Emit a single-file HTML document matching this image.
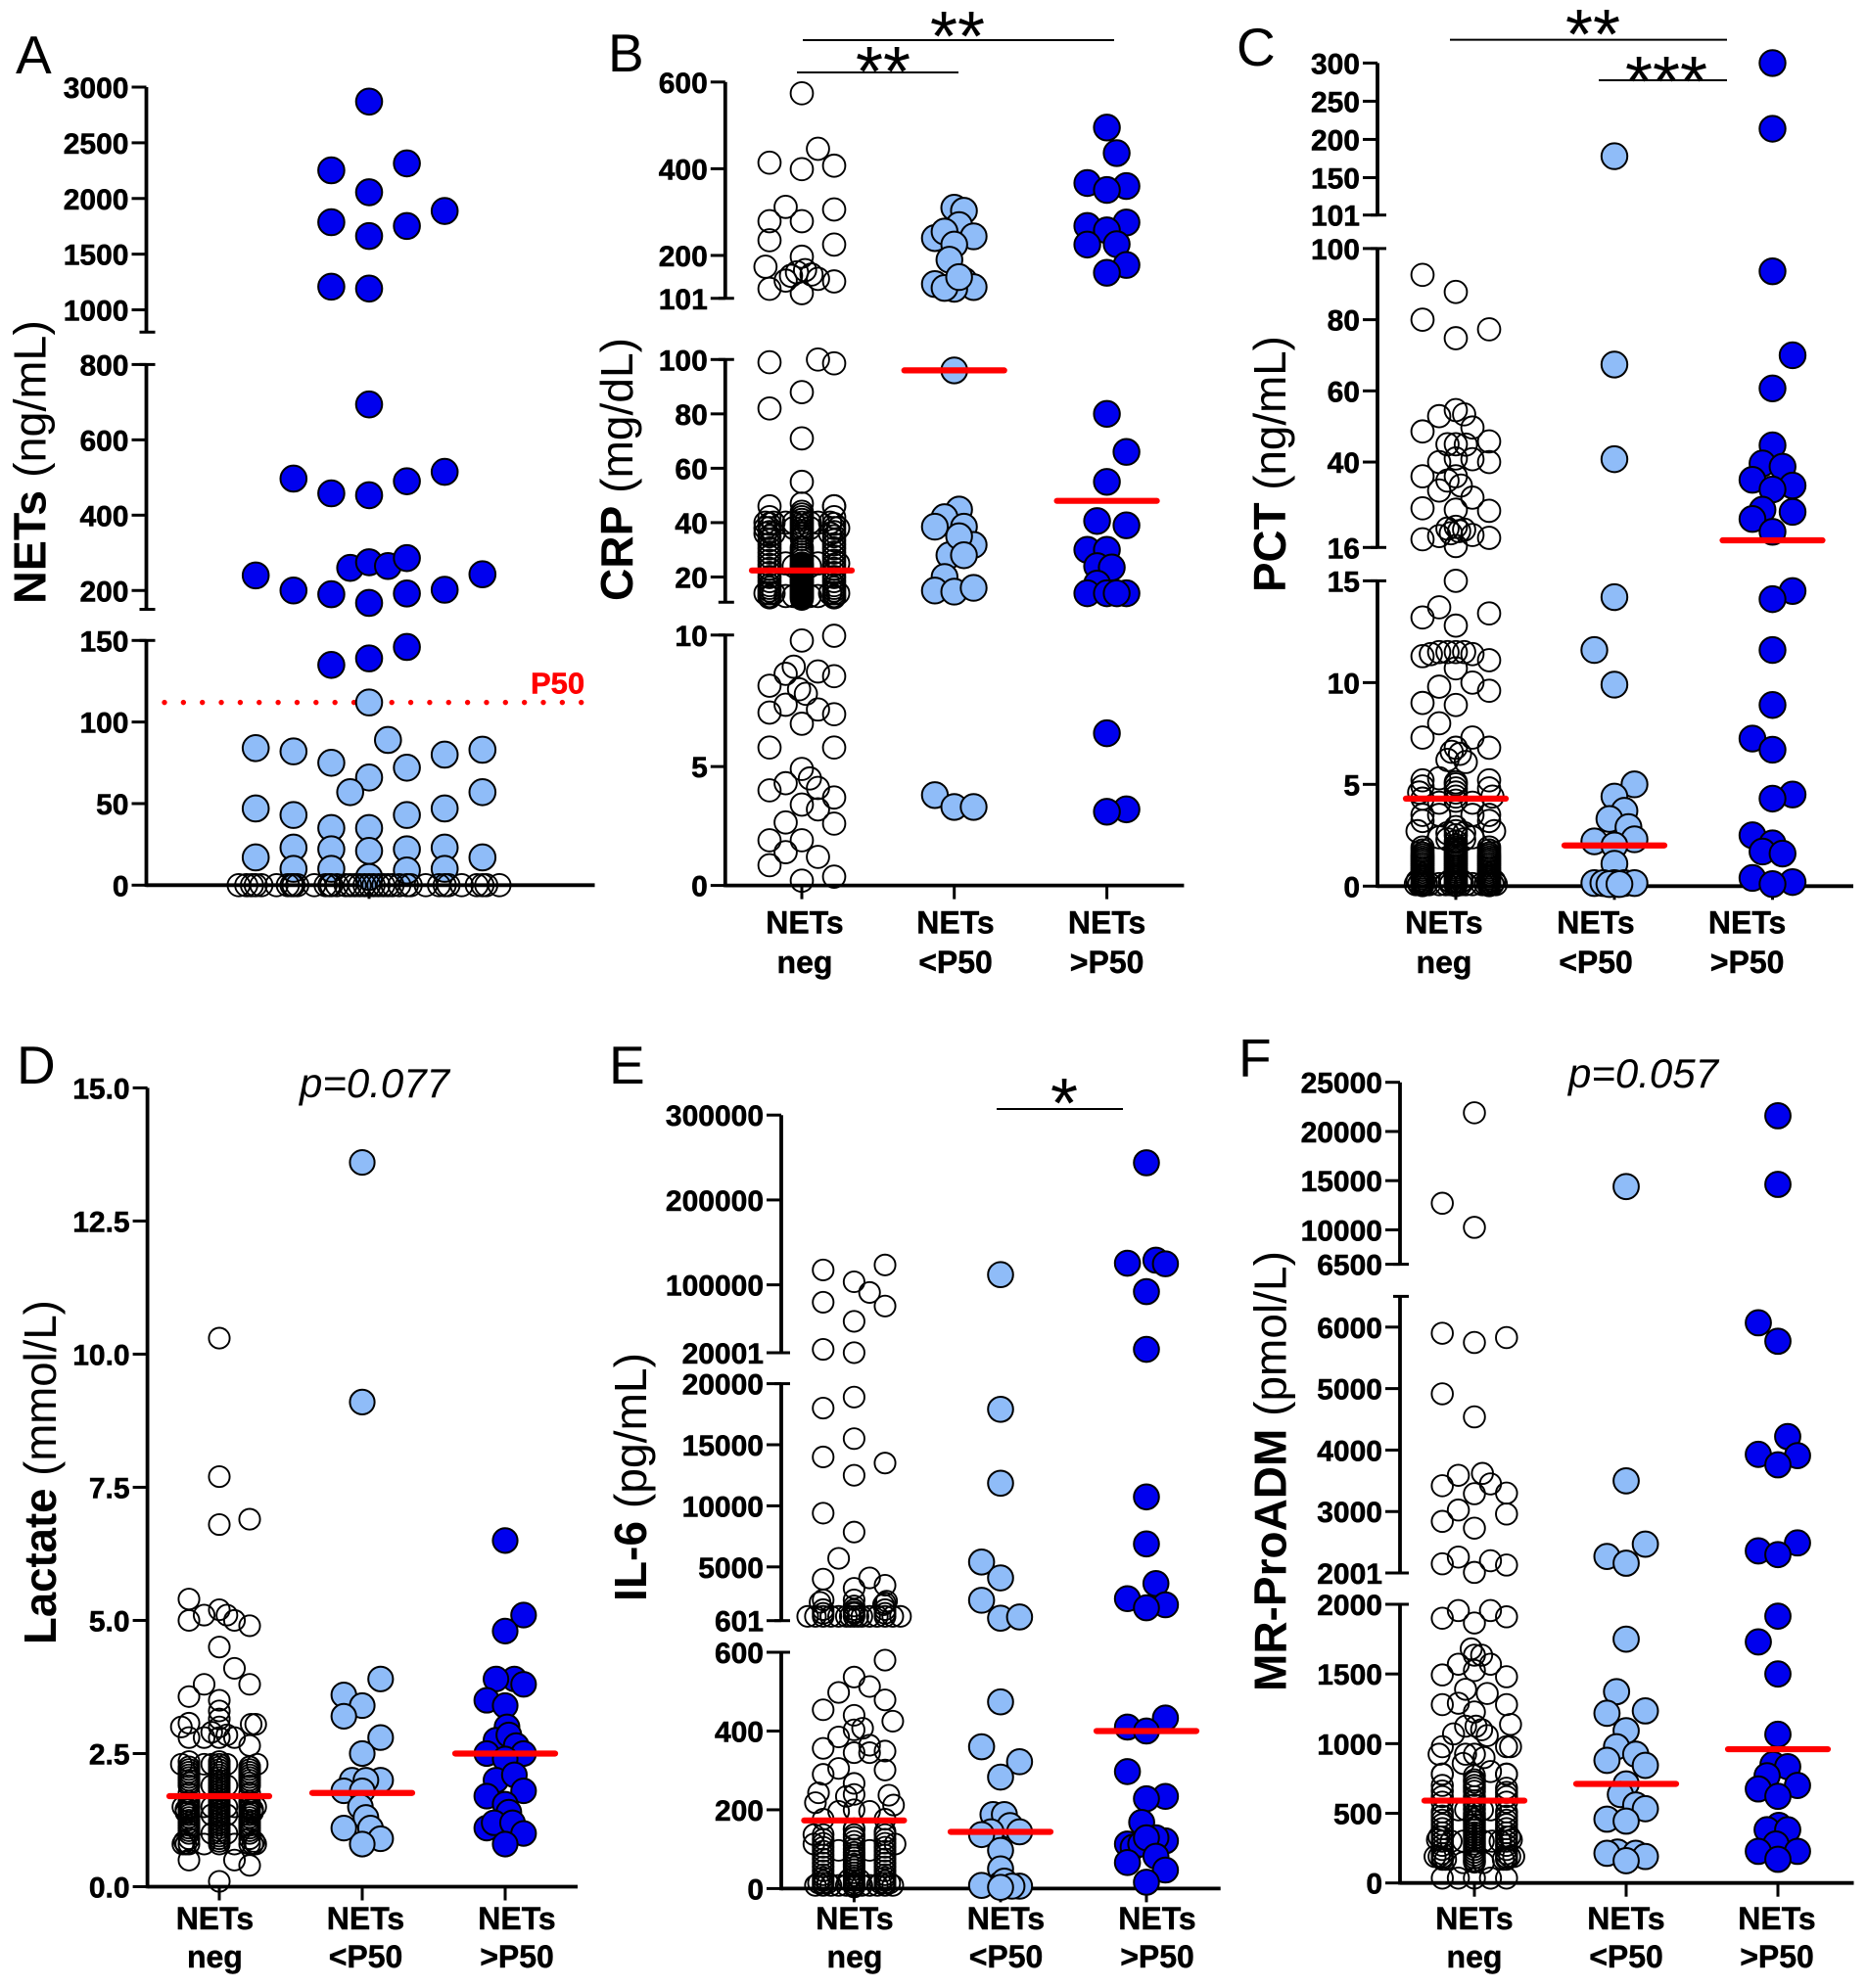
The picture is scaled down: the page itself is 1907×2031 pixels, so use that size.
<!DOCTYPE html>
<html lang="en">
<head>
<meta charset="utf-8">
<title>NETs scatter panels</title>
<style>
html,body{margin:0;padding:0;background:#fff;}
svg{display:block;font-family:"Liberation Sans",Arial,sans-serif;}
.tick{font-size:30px;font-weight:700;fill:#000;text-anchor:end;stroke:#000;stroke-width:.55;}
.cat{font-size:32px;font-weight:700;fill:#000;text-anchor:middle;stroke:#000;stroke-width:.45;}
.letter{font-size:55px;fill:#000;}
.star{font-size:72px;fill:#000;text-anchor:middle;}
.pval{font-size:42px;font-style:italic;fill:#000;}
.ytitle{font-size:46px;fill:#000;}
.ytitle .b{font-weight:700;}
.sig{stroke:#000;stroke-width:2;}
.axis{stroke:#000;stroke-width:3.8;fill:none;}
.tk{stroke:#000;stroke-width:3;}
.neg{fill:none;stroke:#000;stroke-width:1.9;}
.light{fill:#8fbcf8;stroke:#000;stroke-width:2;}
.dark{fill:#0000ee;stroke:#000;stroke-width:2;}
.median{stroke:#ff0000;stroke-width:6.2;stroke-linecap:round;}
</style>
</head>
<body>
<svg id="chart" xmlns="http://www.w3.org/2000/svg" width="1907" height="2031" viewBox="0 0 1907 2031">
<rect width="1907" height="2031" fill="#fff"/>

<text class="letter" x="16" y="75">A</text>
<text class="letter" x="621" y="73">B</text>
<text class="letter" x="1263" y="67">C</text>
<text class="letter" x="17" y="1107">D</text>
<text class="letter" x="622" y="1107">E</text>
<text class="letter" x="1265" y="1100">F</text>

<text class="ytitle" data-x="46.6" data-y="617" data-len="290"><tspan class="b">NETs</tspan> (ng/mL)</text>
<text class="ytitle" data-x="646" data-y="614" data-len="269"><tspan class="b">CRP</tspan> (mg/dL)</text>
<text class="ytitle" data-x="1313" data-y="605" data-len="262"><tspan class="b">PCT</tspan> (ng/mL)</text>
<text class="ytitle" data-x="57" data-y="1680" data-len="352"><tspan class="b">Lactate</tspan> (mmol/L)</text>
<text class="ytitle" data-x="660" data-y="1636" data-len="254"><tspan class="b">IL-6</tspan> (pg/mL)</text>
<text class="ytitle" data-x="1313.6" data-y="1728" data-len="450"><tspan class="b">MR-ProADM</tspan> (pmol/L)</text>

<line class="sig" x1="820" y1="41" x2="1138" y2="41"/>
<text class="star" x="978" y="62">**</text>
<line class="sig" x1="814" y1="74" x2="979" y2="74"/>
<text class="star" x="902" y="98">**</text>
<line class="sig" x1="1481" y1="40.6" x2="1764" y2="40.6"/>
<text class="star" x="1627" y="60">**</text>
<line class="sig" x1="1633" y1="82" x2="1764" y2="82"/>
<text class="star" x="1702" y="108">***</text>
<line class="sig" x1="1018" y1="1133" x2="1147" y2="1133"/>
<text class="star" x="1087" y="1152">*</text>

<text class="pval" x="306" y="1121">p=0.077</text>
<text class="pval" x="1602" y="1111">p=0.057</text>
<g id="marks"></g>
</svg>
<script>
/* ---------- shared categories ---------- */
const catLine1 = ['NETs','NETs','NETs'];
const catLine2 = ['neg','<P50','>P50'];

/* ---------- Panel A: NETs ---------- */
const aTickValues = [0,50,100,150,200,400,600,800,1000,1500,2000,2500,3000];
const aTickLabels = ['0','50','100','150','200','400','600','800','1000','1500','2000','2500','3000'];
const aP50 = [112];
const aDarkValues = [2870,2253,2315,2056,1888,1787,1753,1663,1208,1191,694,497,458,453,490,515,240,260,275,265,286,243,200,190,192,202,167,139,135,146];
const aDarkSlots  = [0,-1,1,0,2,-1,1,0,-1,0,0,-2,-1,0,1,2,-3,-.5,0,.5,1,3,-2,-1,1,2,0,0,-1,1];
const aLightValues = [112,84,82,75,89,66,72,80,83,57,57,47,43,43,47,35,35,23,22,21,22,23,17,17,10,10,5,9,10];
const aLightSlots  = [0,-3,-2,-1,.5,0,1,2,3,-.5,3,-3,-2,1,2,-1,0,-2,-1,0,1,2,-3,3,-2,-1,0,1,2];
const aNegValues = [0,0,0,0,0,0,0,0,0,0,0,0,0,0,0,0,0,0,0,0,0,0,0,0,0,0,0,0,0,0,0,0,0,0,0,0,0,0];
const aNegSlots  = [-3.45,-3.25,-3.1,-3,-2.85,-2.45,-2.15,-2.05,-2,-1.9,-1.45,-1.15,-1.05,-1,-.85,-.5,-.25,-.12,0,.12,.25,.5,-.38,.38,.8,1,1.1,1.5,1.85,2,2.1,2.45,2.85,3,3.1,3.45,.62,-.62];

/* ---------- Panel B: CRP ---------- */
const bTickValues = [0,5,10.53,20,40,60,80,100,101,200,400,600];
const bTickLabels = ['0','5','10','20','40','60','80','100','101','200','400','600'];
const bMedians = [22.4,96,48];
const bNegValues = [574,446,414,399,407,312,306,279,279,235,225,197,174,140,123,113,142,153,161,166,156,146,
  99,100,98.6,88,82,71,55,46,46,47,
  40,38,36,14,40,36,14,40,25,13,40,25,13,40,38,24,13,40,38,24,13,38,25,14,40,36,14,
  10.3,10.5,9.2,8.9,9,8.8,8.4,8.25,8.06,7.6,7.4,7.27,7.2,6.8,5.8,5.8,4.9,4.5,4.3,4.1,4,3.7,3.4,3.2,2.65,2.6,1.9,1.9,1.4,1.2,.85,.37,.2];
const bNegSlots  = [0,1,-2,0,2,-1,2,-2,0,-2,2,0,-2.25,2,-2,0,-1,-.67,-.3,.2,.6,1,
  -2,1,2,0,-2,0,0,-2,2,0,
  -2.25,-2.25,-2.25,-2.25,-1.75,-1.75,-1.75,-1,-1,-1,1,1,1,-.5,-.5,-.5,-.5,.5,.5,.5,.5,2.25,2.25,2.25,1.75,1.75,1.75,
  0,2,-.5,-1,1,2,-2,-.17,.25,-1,1,-2,2,0,-2,2,0,.5,-1,1,-2,2,0,1,-1,2,-2,0,-1,1,-2,2,0];
const bNegStackLeft = [42,39.5,38,36.5,35,33.5,32,30.5,29,27.5,26,24.5,23,21.5,20,18.5,17,16,15,14,13,12.5];
const bNegStackCenter = [44,43,42,41,40,39,38,37,36,35,34,31,30,29,28,27,26,25,24.5,24,23.5,23,22.5,22,21.5,21,20.5,20,19.5,19,18.5,18,17.5,17,16.5,16,15.5,15,14.5,14,13.5,13,12.5,12];
const bNegStackRight = [46,42,39.5,38,36.5,35,33.5,32,30.5,29,27.5,26,24.5,23,21.5,20,18.5,17,16,15,14,13,12.5];
const bLightValues = [310,303,270,240,255,244,225,190,134,142,127,123,125,150,96,44.8,42,38.5,38.5,31.8,28,35,28,20,15,14.6,16,3.8,3.3,3.3];
const bLightSlots  = [0,.5,.25,-1,-.5,1,0,-.25,-1,.5,1,0,-.5,.25,0,.25,-.5,-1,.5,1,-.25,.25,.5,-.5,-1,0,1,-1,0,1];
const bDarkValues = [495,436,367,360,351,276,268,258,225,226,178,160,80,66,55,40.6,39,30,30,24,23.5,17.6,14,14,14,14,6.4,3.2,3.1];
const bDarkSlots  = [0,.5,-1,1,0,1,-1,0,-1,.5,1,0,0,1,0,-.5,1,-1,0,-.5,.25,-.5,-1,1,0,.5,0,1,0];

/* ---------- Panel C: PCT ---------- */
const cTickValues = [0,5,10,15,16,40,60,80,100,101,150,200,250,300];
const cTickLabels = ['0','5','10','15','16','40','60','80','100','101','150','200','250','300'];
const cMedians = [4.3,2,18];
const cNegValues = [92.6,87.8,80,74.8,77.3,54.6,52.9,53.4,49.7,48.6,45,45,44.9,45.8,40,41,40.8,40,36,34.8,36,32,33.4,30,27,26.6,26.3,21.8,21.3,21,19.2,19.5,18.3,18.7,16.4,20,20.6,
  15,13.7,13.2,13.4,12.8,11.3,11.4,11.5,11.5,11.5,11.5,11.4,11.1,10.7,9.8,10,9.6,9,8.9,8,7.3,7.3,6.8,6.8,6.6,6.5,6.2,6.1,5.3,5.2,5.2,5.1,
  4.9,4.6,4.3,3.5,3.2,2.7,4.8,4.4,3.5,3.2,2.7,4.1,3.5,2.4,4.1,3.5,2.4,2.6,2.3,2.6,2.3,
  .1,.1,.1,.1,.1,.1,.1,.1,.1,.1,.1,.1,.1,.1,.25,.25,.25,.25];
const cNegSlots  = [-2,0,-2,0,2,0,-1,.5,1,-2,-.5,0,.6,2,-1,0,1,2,-2,-.5,0,-1,.3,1,-2,0,2,0,-.5,.5,-1,1,-2,2,0,-.3,.2,
  0,-1,-2,2,0,-2,-1.5,-1,-.5,0,.5,1,2,0,-1,1,2,-2,0,-1,-2,1,2,0,-.25,.25,-.5,.6,-1,-2,2,0,
  -2,-2.2,-2,-2,-2,-2.3,2,2.2,2,2,2.3,-1,-1,-1,1,1,1,-.5,-.5,.5,.5,
  -2.4,-2.2,-1.8,-1.6,-1,-.6,-.3,.3,.6,1,1.6,1.8,2.2,2.4,-.35,.35,-2.3,2.3];
const cNegStackLeft = [1.9,1.75,1.6,1.5,1.4,1.3,1.2,1.1,1,.9,.8,.7,.6,.5,.4,.3,.2,.1,.05];
const cNegStackCenter = [5,4.8,4.6,4.4,4.2,2.9,2.7,2.5,2.2,2,1.9,1.8,1.7,1.6,1.5,1.4,1.3,1.2,1.1,1,.9,.8,.7,.6,.5,.4,.3,.2,.1,.05];
const cNegStackRight = [1.9,1.75,1.6,1.5,1.4,1.3,1.2,1.1,1,.9,.8,.7,.6,.5,.4,.3,.2,.1,.05];
const cLightValues = [178,67.4,40.8,14.2,11.6,9.9,5,4.4,3.7,3.3,2.9,2.2,2.3,2,1.1,.15,.15,.15,.15,.15,.1,.1];
const cLightSlots  = [0,0,0,0,-1,0,1,0,.5,-.25,.7,-1,1,0,0,-1,-.55,0,.5,1,-.25,.25];
const cDarkValues = [300,214,93.6,70,60.7,44.7,39.6,38.7,35,33.4,32.3,26.6,26,24,20.4,14.5,14.1,11.6,8.9,7.25,6.7,4.5,4.3,2.5,2.1,1.7,1.6,.4,.2,.1];
const cDarkSlots  = [0,0,0,1,0,0,-.5,.5,-1,1,0,-.5,1,-1,0,1,0,0,0,-1,0,1,0,-1,0,-.5,.5,-1,1,0];

/* ---------- Panel D: Lactate ---------- */
const dTickValues = [0,2.5,5,7.5,10,12.5,15];
const dTickLabels = ['0.0','2.5','5.0','7.5','10.0','12.5','15.0'];
const dMedians = [1.7,1.76,2.5];
const dNegValues = [10.3,7.7,6.9,6.8,5.4,5,5.1,5.2,5.1,5,4.9,4.5,4.1,3.8,3.8,3.57,3.5,3.3,3.15,3,3,3.07,3.05,3.05,2.8,2.8,2.9,2.85,2.8,2.8,2.65,2.3,2.35,2.3,2.3,2.3,2.35,2.25,2.3,
  1.9,1.5,1.35,1,1.9,1.5,1.35,1,1.5,.8,1.5,.8,1.5,.8,1.5,.8,.5,.5,.4,.1,1.45,1.4,.85,.8,1.45,1.4,.85,.8];
const dNegSlots  = [0,0,2,0,-2,-2,-1,0,.5,1,2,0,1,-1,2,-2,0,0,0,0,-2.5,-2,2.4,2.1,-1,1,-.5,.5,0,-2,2,-2.5,-2,-1,-.5,.5,0,2,2.5,
  -.5,-.5,-.5,-.5,.5,.5,.5,.5,-1,-1,1,1,-2.4,-2.4,2.4,2.4,-2,1,2,0,-2.2,-2.2,-2.3,-2.2,2.2,2.2,2.3,2.2];
const dNegStackLeft = [2.25,2.2,2.15,2.1,2.05,2,1.95,1.9,1.75,1.6,1.55,1.5,1.45,1.4,1.35,1.3,1.25,1.2,1.15,1.1,1.05,1,.9,.8];
const dNegStackCenter = [2.3,2.25,2.2,2.15,2.1,2.05,2,1.95,1.9,1.85,1.8,1.75,1.7,1.65,1.6,1.55,1.5,1.45,1.4,1.35,1.3,1.25,1.2,1.15,1.1,1.05,1,.95,.9,.85,.8];
const dNegStackRight = [2.25,2.2,2.15,2.1,2.05,2,1.95,1.9,1.75,1.6,1.55,1.5,1.45,1.4,1.35,1.3,1.25,1.2,1.15,1.1,1.05,1,.9,.8];
const dLightValues = [13.6,9.1,3.9,3.6,3.4,3.2,2.8,2.5,2,2,2,1.8,1.8,1.5,1.3,1.1,1.1,.9,.8];
const dLightSlots  = [0,0,1,-1,0,-1,1,0,1,-.55,.2,-1,0,-.1,.2,-1,.45,1,0];
const dDarkValues = [6.5,5.1,4.8,3.9,3.9,3.8,3.5,3.4,3,2.75,2.85,2.65,2.5,2.5,2.4,2,2.1,1.8,1.7,1.55,1.4,1.1,1.2,1.2,1,.8];
const dDarkSlots  = [0,1,0,.5,-.5,1,-1,0,.1,-.5,.2,.6,-1,1,0,-.5,.5,1,-1,0,.2,-1,-.6,.4,1,0];

/* ---------- Panel E: IL-6 ---------- */
const eTickValues = [0,200,400,600,601,5000,10000,15000,20000,20001,100000,200000,300000];
const eTickLabels = ['0','200','400','600','601','5000','10000','15000','20000','20001','100000','200000','300000'];
const eMedians = [173,144,400];
const eNegValues = [117500,103600,123400,91000,79500,75000,57000,24000,20100,
  18000,18900,15500,14000,13500,12500,9400,7850,5700,4000,4100,3500,3250,2300,2100,2050,2300,1800,1300,
  950,950,950,950,950,950,950,950,950,950,950,950,950,950,950,1500,1200,1500,1200,1500,1200,2200,1900,
  580,537,498,513,454,479,425,440,385,403,407,364,356,345,345,349,305,290,301,267,243,237,234,239,218,212,
  196,196,176,200,176,137,137,137,144,152,137,97,97,113,113,
  8,8,8,8,8,8,8,8,14,14,14,14,22,22];
const eNegSlots  = [-2,0,2,1,-2,2,0,-2,0,
  -2,0,0,-2,2,0,-2,0,-1,-2,1,2,0,-2,-2.2,2,0,0,0,
  -3,-2.5,-2,-1.5,-1,-.5,-.25,0,.25,.5,1,1.5,2,2.5,3,-2,-2,0,0,2,2,2.1,1.9,
  2,0,-1,1,-2,2,2.5,0,-1,0,.55,1,-2,0,1,2,-1,-2,2,0,-2.3,2.25,-.5,0,-2.5,2.55,
  -1,1,-2,0,2,-2.6,-2,2,2,0,0,-1,1,-2.6,2.65,
  -2.5,-1.5,-1,-.5,.5,1,1.5,2.5,-2.3,-1.7,1.7,2.3,-.35,.35];
const eNegStackLeft = [125,115,105,95,85,75,65,55,45,35,28,20,14,8];
const eNegStackCenter = [150,130,120,110,100,92,85,78,70,62,55,48,40,33,27,20,14,8,4];
const eNegStackRight = [125,115,105,95,85,75,65,55,45,35,28,20,14,8];
const eLightValues = [112000,17900,11850,5400,4100,2270,800,900,474,360,322,283,188,188,160,144,144,137,97,50,11,8,19,6,6,3];
const eLightSlots  = [0,0,0,-1,0,-1,0,1,0,-1,1,0,-.4,.2,.5,1,-.5,-1,0,0,0,-1,.2,1,.6,0];
const eDarkValues = [243800,125500,129000,124800,92000,24000,10730,6880,3640,2400,1900,1650,433,410,400,297,234,228,168,113,121,105,113,129,129,82,66,47,16];
const eDarkSlots  = [0,-1,.5,1,0,0,0,0,.5,-1,1,0,1,-1,0,-1,1,0,-.25,-1,1,-.7,-.3,.5,0,.5,-1,1,0];

/* ---------- Panel F: MR-ProADM ---------- */
const fTickValues = [0,500,1000,1500,2000,2001,3000,4000,5000,6000,6500.5,10000,15000,20000,25000];
const fTickLabels = ['0','500','1000','1500','2000','2001','3000','4000','5000','6000','6500','10000','15000','20000','25000'];
const fMedians = [591,711,960];
const fNegValues = [21900,12700,10250,5900,5750,5830,4915,4540,3590,3620,3450,3420,3290,3300,3025,2960,2840,2730,2260,2200,2150,2130,2010,
  1955,1955,1900,1910,1866,1680,1635,1635,1570,1570,1493,1480,1525,1390,1360,1290,1280,1280,1227,1138,1125,1125,1100,1070,1058,978,978,978,924,924,924,900,858,800,782,782,
  525,525,525,525,300,300,300,300,300,190,190,146,146,35,35,35,35,35,330,310,190,170,330,310,190,170];
const fNegSlots  = [0,-2,0,-2,0,2,-2,0,-1,.5,1,-2,0,2,-1,2,-2,0,-1,1,-2,2,0,
  -1,1,-2,2,0,-.2,0,.45,-1,1,-2,2,0,-.55,.8,-1,-2,2,0,2.25,-.55,.1,.45,-1.3,.8,-2,2,2.25,-2.2,-.55,0,.6,-.7,1,-2,2,
  -1,-.55,.5,1,-1.45,-.7,.55,1.1,1.6,-2.45,2.45,-.7,.55,-2,-1,0,1,2,-2.2,-2.3,-2.2,-1.8,2.2,2.3,2.2,1.8];
const fNegStackLeft = [780,700,660,620,580,510,480,450,420,390,360,330,300,270,240,210,185,170];
const fNegStackCenter = [770,740,724,700,680,658,620,590,560,530,500,480,460,440,420,400,380,360,340,320,300,280,260,240,220,200,180,160,150];
const fNegStackRight = [780,680,650,620,580,510,480,450,420,390,360,330,300,270,240,210,185,170];
const fLightValues = [14400,3500,2470,2270,2160,1750,1373,1218,1235,1093,978,924,880,844,711,635,560,533,458,444,222,213,213,190,160];
const fLightSlots  = [0,0,1,-1,0,0,-.5,-1,1,0,-.5,.5,-1,1,0,-.3,.5,1,-1,0,-.45,-1,.5,1,0];
const fDarkValues = [21600,14620,6070,5770,4220,3930,3910,3760,2490,2360,2300,1915,1730,1500,1067,850,835,770,675,700,622,413,382,382,280,227,227,170];
const fDarkSlots  = [0,0,-1,0,.5,-1,1,0,1,-1,0,0,-1,0,0,-.25,.5,-.55,-1,1,0,.05,-.55,.5,-.1,-1,1,0];

/* ---------- layouts (pixels live here, not in data) ---------- */
const layoutA = {id:'a',axisX:149.5,xEnd:607.5,segs:[{lo:0,hi:150,bottom:904.3,top:654.3},{lo:150,hi:800,bottom:622.5,top:372.4},{lo:800,hi:3000,bottom:339.3,top:89}],groupX:[377,377,377],steps:[38.6,38.6,38.6],labelX:null,labelY:null,rFilled:13.3,rNeg:11.4};
const layoutB = {id:'b',axisX:740.8,xEnd:1209.4,segs:[{lo:0,hi:10.53,bottom:904.6,top:648.8},{lo:10.7,hi:100,bottom:615.3,top:367.3},{lo:101,hi:600,bottom:304.8,top:83.8}],groupX:[819,974.7,1130.6],steps:[16.5,19.8,20],labelX:[822,976,1130.6],labelY:[953.6,994],rFilled:13.2,rNeg:11.4};
const layoutC = {id:'c',axisX:1407,xEnd:1893,segs:[{lo:0,hi:15,bottom:905.3,top:593.4},{lo:16,hi:100,bottom:559.3,top:253.9},{lo:101,hi:300,bottom:219.7,top:64.4}],groupX:[1487,1649,1810.5],steps:[17,20.5,20.5],labelX:[1475,1630,1784.6],labelY:[953.6,994],rFilled:13.2,rNeg:11.4};
const layoutD = {id:'d',axisX:150.6,xEnd:590,segs:[{lo:0,hi:15,bottom:1927.5,top:1111.4}],groupX:[224,370,516],steps:[15.5,18.8,18.8],labelX:[219.4,373.5,528],labelY:[1971,2010],rFilled:12.6,rNeg:10.6};
const layoutE = {id:'e',axisX:798,xEnd:1246.7,segs:[{lo:0,hi:600,bottom:1929.4,top:1688},{lo:601,hi:20000,bottom:1655.7,top:1413.6},{lo:20001,hi:300000,bottom:1382,top:1139.2}],groupX:[872.4,1022,1171],steps:[15.8,19.4,19.4],labelX:[873,1027.5,1182],labelY:[1971,2010],rFilled:12.8,rNeg:10.6};
const layoutF = {id:'f',axisX:1430,xEnd:1893.5,segs:[{lo:0,hi:2000,bottom:1923.7,top:1639},{lo:2001,hi:6500,bottom:1607,top:1324.4},{lo:6500.5,hi:25000,bottom:1291.6,top:1105.7}],groupX:[1506,1661,1816],steps:[16.4,19.6,20],labelX:[1506,1661,1815],labelY:[1971,2010],rFilled:12.9,rNeg:10.8};

const SVGNS = 'http://www.w3.org/2000/svg';
const root = document.getElementById('marks');

function make(tag, attrs){
  const node = document.createElementNS(SVGNS, tag);
  for (const k in attrs) node.setAttribute(k, attrs[k]);
  root.appendChild(node);
  return node;
}

function yScale(p, v){
  let seg = p.segs[p.segs.length - 1];
  for (const s of p.segs){ if (v <= s.hi){ seg = s; break; } }
  return seg.bottom + (v - seg.lo) / (seg.hi - seg.lo) * (seg.top - seg.bottom);
}

function xScale(p, group, slot){
  return p.groupX[group] + slot * p.steps[group];
}

function drawAxes(p, tickValues, tickLabels){
  p.segs.forEach(function(s, i){
    const a = make('line', {class:'axis', x1:p.axisX, x2:p.axisX, y1:s.bottom + (i === 0 ? 1.8 : 0), y2:s.top});
    
    
    if (i > 0){
      const capB = make('line', {class:'tk', x1:p.axisX - 7, x2:p.axisX + 9, y1:s.bottom, y2:s.bottom});
      
      
    }
    if (i < p.segs.length - 1){
      const capT = make('line', {class:'tk', x1:p.axisX - 7, x2:p.axisX + 9, y1:s.top, y2:s.top});
      
      
    }
  });
  tickValues.forEach(function(v, i){
    const y = yScale(p, v);
    const t = make('line', {class:'tk', x1:p.axisX - 15, x2:p.axisX, y1:y, y2:y});
    
    
    const lab = make('text', {class:'tick', x:p.axisX - 18, y:y + 11});
    lab.textContent = tickLabels[i];
    
    
  });
  const y0 = p.segs[0].bottom;
  const xa = make('line', {class:'axis', x1:p.axisX, x2:p.xEnd, y1:y0, y2:y0});
  
  
  p.groupX.forEach(function(gx, i){
    if (!p.labelX && i > 0) return;
    const t = make('line', {class:'tk', x1:gx, x2:gx, y1:y0, y2:y0 + 14});
    
    
    if (!p.labelX) return;
    const l1 = make('text', {class:'cat', x:p.labelX[i], y:p.labelY[0]});
    l1.textContent = catLine1[i];
    
    
    const l2 = make('text', {class:'cat', x:p.labelX[i], y:p.labelY[1]});
    l2.textContent = catLine2[i];
    
    
  });
}

function drawPoints(p, group, kind, values, slots){
  values.forEach(function(v, i){
    const slot = Array.isArray(slots) ? (slots[i] || 0) : slots;
    const c = make('circle', {class:kind, cx:xScale(p, group, slot), cy:yScale(p, v), r:kind === 'neg' ? p.rNeg : p.rFilled});
    
    
  });
}

function drawMedians(p, medians){
  medians.forEach(function(v, i){
    const y = yScale(p, v);
    const m = make('line', {class:'median', x1:p.groupX[i] - 51, x2:p.groupX[i] + 51, y1:y, y2:y});
    
    
  });
}

/* Panel A */
drawAxes(layoutA, aTickValues, aTickLabels);
const p50y = yScale(layoutA, aP50[0]);
const p50Line = make('line', {x1:168, x2:597, y1:p50y, y2:p50y, stroke:'#ff0000', 'stroke-width':5.4, 'stroke-linecap':'round', 'stroke-dasharray':'0 19.35'});


const p50Label = make('text', {x:542, y:p50y - 9, fill:'#ff0000', stroke:'#ff0000', 'stroke-width':.5, 'font-size':31, 'font-weight':700});
p50Label.textContent = 'P50';


drawPoints(layoutA, 2, 'dark', aDarkValues, aDarkSlots);
drawPoints(layoutA, 1, 'light', aLightValues, aLightSlots);
drawPoints(layoutA, 0, 'neg', aNegValues, aNegSlots);

/* Panel B */
drawAxes(layoutB, bTickValues, bTickLabels);
drawPoints(layoutB, 0, 'neg', bNegValues, bNegSlots);
drawPoints(layoutB, 0, 'neg', bNegStackLeft, -2);
drawPoints(layoutB, 0, 'neg', bNegStackCenter, 0);
drawPoints(layoutB, 0, 'neg', bNegStackRight, 2);
drawPoints(layoutB, 1, 'light', bLightValues, bLightSlots);
drawPoints(layoutB, 2, 'dark', bDarkValues, bDarkSlots);
drawMedians(layoutB, bMedians);

/* Panel C */
drawAxes(layoutC, cTickValues, cTickLabels);
drawPoints(layoutC, 0, 'neg', cNegValues, cNegSlots);
drawPoints(layoutC, 0, 'neg', cNegStackLeft, -2);
drawPoints(layoutC, 0, 'neg', cNegStackCenter, 0);
drawPoints(layoutC, 0, 'neg', cNegStackRight, 2);
drawPoints(layoutC, 1, 'light', cLightValues, cLightSlots);
drawPoints(layoutC, 2, 'dark', cDarkValues, cDarkSlots);
drawMedians(layoutC, cMedians);

/* Panel D */
drawAxes(layoutD, dTickValues, dTickLabels);
drawPoints(layoutD, 0, 'neg', dNegValues, dNegSlots);
drawPoints(layoutD, 0, 'neg', dNegStackLeft, -2);
drawPoints(layoutD, 0, 'neg', dNegStackCenter, 0);
drawPoints(layoutD, 0, 'neg', dNegStackRight, 2);
drawPoints(layoutD, 1, 'light', dLightValues, dLightSlots);
drawPoints(layoutD, 2, 'dark', dDarkValues, dDarkSlots);
drawMedians(layoutD, dMedians);

/* Panel E */
drawAxes(layoutE, eTickValues, eTickLabels);
drawPoints(layoutE, 0, 'neg', eNegValues, eNegSlots);
drawPoints(layoutE, 0, 'neg', eNegStackLeft, -2);
drawPoints(layoutE, 0, 'neg', eNegStackCenter, 0);
drawPoints(layoutE, 0, 'neg', eNegStackRight, 2);
drawPoints(layoutE, 1, 'light', eLightValues, eLightSlots);
drawPoints(layoutE, 2, 'dark', eDarkValues, eDarkSlots);
drawMedians(layoutE, eMedians);

/* Panel F */
drawAxes(layoutF, fTickValues, fTickLabels);
drawPoints(layoutF, 0, 'neg', fNegValues, fNegSlots);
drawPoints(layoutF, 0, 'neg', fNegStackLeft, -2);
drawPoints(layoutF, 0, 'neg', fNegStackCenter, 0);
drawPoints(layoutF, 0, 'neg', fNegStackRight, 2);
drawPoints(layoutF, 1, 'light', fLightValues, fLightSlots);
drawPoints(layoutF, 2, 'dark', fDarkValues, fDarkSlots);
drawMedians(layoutF, fMedians);

/* Fit rotated y-axis titles to their measured length */
document.querySelectorAll('.ytitle').forEach(function(t){
  const w = t.getComputedTextLength();
  const len = +t.getAttribute('data-len');
  t.setAttribute('transform', 'translate(' + t.getAttribute('data-x') + ',' + t.getAttribute('data-y') + ') rotate(-90) scale(' + (len / w) + ',1)');
});
</script>
</body>
</html>
